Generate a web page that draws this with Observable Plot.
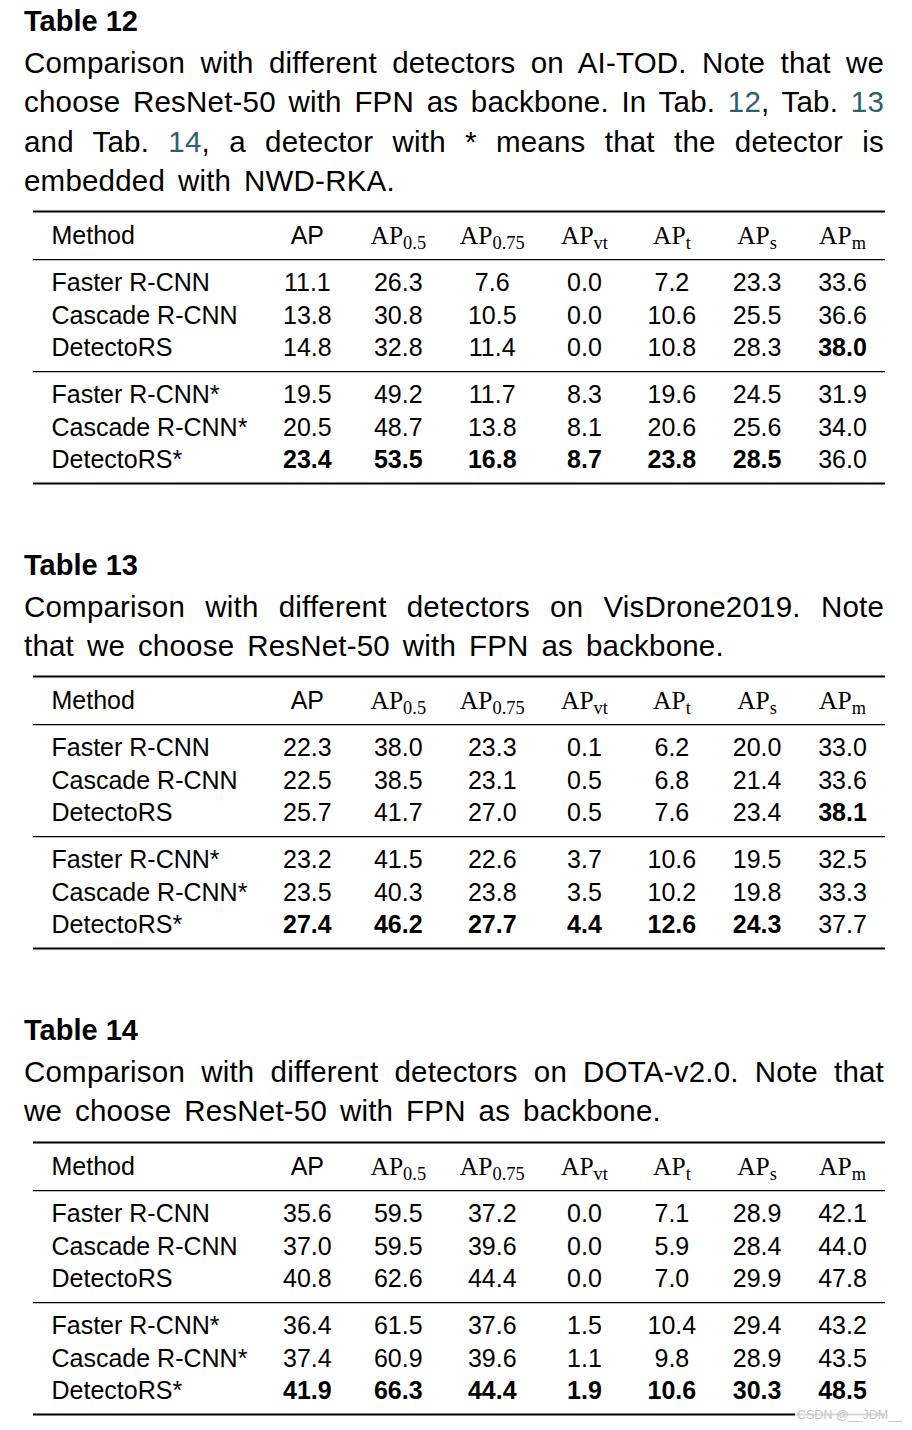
<!DOCTYPE html>
<html>
<head>
<meta charset="utf-8">
<script src="https://cdn.jsdelivr.net/npm/d3@7"></script>
<script src="https://cdn.jsdelivr.net/npm/@observablehq/plot@0.6"></script>
<style>
  body { margin: 0; background: #fff; }
  #page { position: relative; width: 912px; height: 1430px; overflow: hidden; font-family: "Liberation Sans", Arial, sans-serif; color: #000; }
  .title { position: absolute; left: 24px; font-weight: bold; font-size: 29px; line-height: 39.5px; white-space: nowrap; }
  .cap { position: absolute; left: 24px; width: 860px; font-size: 29.5px; line-height: 39.5px; letter-spacing: 0.2px; }
  .cap div { text-align: justify; text-align-last: justify; white-space: nowrap; }
  .cap div.last { text-align-last: left; word-spacing: 4.5px; }
  .ref { color: #2c6170; }
  .tbl { position: absolute; left: 0; }
  .wm { position: absolute; left: 795px; top: 1408px; font-size: 12.5px; color: #c4c4c4; background: rgba(255,255,255,0.85); padding: 0 2px; font-family: "Liberation Sans", Arial, sans-serif; }
</style>
</head>
<body>
<div id="page"></div>
<script>
// ---------- data ----------
const methods = ["Faster R-CNN", "Cascade R-CNN", "DetectoRS", "Faster R-CNN*", "Cascade R-CNN*", "DetectoRS*"];
const columns = ["AP", "AP_0.5", "AP_0.75", "AP_vt", "AP_t", "AP_s", "AP_m"];

const titles = ["Table 12", "Table 13", "Table 14"];
const captions12 = [
  "Comparison with different detectors on AI-TOD. Note that we",
  "choose ResNet-50 with FPN as backbone. In Tab. [12], Tab. [13]",
  "and Tab. [14], a detector with * means that the detector is",
  "embedded with NWD-RKA."
];
const captions13 = [
  "Comparison with different detectors on VisDrone2019. Note",
  "that we choose ResNet-50 with FPN as backbone."
];
const captions14 = [
  "Comparison with different detectors on DOTA-v2.0. Note that",
  "we choose ResNet-50 with FPN as backbone."
];

const values12 = [
  [11.1, 26.3, 7.6, 0.0, 7.2, 23.3, 33.6],
  [13.8, 30.8, 10.5, 0.0, 10.6, 25.5, 36.6],
  [14.8, 32.8, 11.4, 0.0, 10.8, 28.3, 38.0],
  [19.5, 49.2, 11.7, 8.3, 19.6, 24.5, 31.9],
  [20.5, 48.7, 13.8, 8.1, 20.6, 25.6, 34.0],
  [23.4, 53.5, 16.8, 8.7, 23.8, 28.5, 36.0]
];
const bold12 = [
  [0,0,0,0,0,0,0],
  [0,0,0,0,0,0,0],
  [0,0,0,0,0,0,1],
  [0,0,0,0,0,0,0],
  [0,0,0,0,0,0,0],
  [1,1,1,1,1,1,0]
];
const values13 = [
  [22.3, 38.0, 23.3, 0.1, 6.2, 20.0, 33.0],
  [22.5, 38.5, 23.1, 0.5, 6.8, 21.4, 33.6],
  [25.7, 41.7, 27.0, 0.5, 7.6, 23.4, 38.1],
  [23.2, 41.5, 22.6, 3.7, 10.6, 19.5, 32.5],
  [23.5, 40.3, 23.8, 3.5, 10.2, 19.8, 33.3],
  [27.4, 46.2, 27.7, 4.4, 12.6, 24.3, 37.7]
];
const bold13 = [
  [0,0,0,0,0,0,0],
  [0,0,0,0,0,0,0],
  [0,0,0,0,0,0,1],
  [0,0,0,0,0,0,0],
  [0,0,0,0,0,0,0],
  [1,1,1,1,1,1,0]
];
const values14 = [
  [35.6, 59.5, 37.2, 0.0, 7.1, 28.9, 42.1],
  [37.0, 59.5, 39.6, 0.0, 5.9, 28.4, 44.0],
  [40.8, 62.6, 44.4, 0.0, 7.0, 29.9, 47.8],
  [36.4, 61.5, 37.6, 1.5, 10.4, 29.4, 43.2],
  [37.4, 60.9, 39.6, 1.1, 9.8, 28.9, 43.5],
  [41.9, 66.3, 44.4, 1.9, 10.6, 30.3, 48.5]
];
const bold14 = [
  [0,0,0,0,0,0,0],
  [0,0,0,0,0,0,0],
  [0,0,0,0,0,0,0],
  [0,0,0,0,0,0,0],
  [0,0,0,0,0,0,0],
  [1,1,1,1,1,1,1]
];

// ---------- layout (table geometry, not data) ----------
const colWidths = [229.5, 89, 93, 95, 89.5, 85.5, 85, 86]; // tabular column widths
const tabcolsep = 18;
const totalW = d3.sum(colWidths);
const colStart = d3.cumsum([0, ...colWidths]);
const colCenter = i => colStart[i] + colWidths[i] / 2;
const rowStep = 32.5;
const gap = 14.5 / rowStep;              // extra space after a rule, in row units
const rowSlot = r => 1 + gap + (r < 3 ? 0 : 3 + gap) + (r % 3);
const topRule = -0.76;
const headRule = rowSlot(0) / 2;
const midRule = (rowSlot(2) + rowSlot(3)) / 2;
const bottomRule = rowSlot(5) + 0.723;
const mTop = 6, mBot = 6;
const plotH = Math.round(mTop + mBot + rowStep * (bottomRule - topRule));
const FONT = "'Liberation Sans', Arial, sans-serif";
const FS = 25;

function makeTable(values, bold) {
  const cells = [];
  values.forEach((row, r) => row.forEach((v, c) => cells.push({
    x: colCenter(c + 1), y: rowSlot(r), text: v.toFixed(1), bold: !!bold[r][c]
  })));
  const names = methods.map((m, r) => ({x: tabcolsep, y: rowSlot(r), text: m}));
  const heads = columns.map((h, c) => ({x: colCenter(c + 1), y: 0, text: h}));

  const svg = Plot.plot({
    width: 912,
    height: plotH,
    marginLeft: 33, marginRight: 27, marginTop: mTop, marginBottom: mBot,
    x: {type: "linear", domain: [0, totalW], axis: null},
    y: {type: "linear", domain: [topRule, bottomRule], range: [mTop, plotH - mBot], axis: null},
    style: {fontFamily: FONT, fontSize: FS + "px", color: "#000", background: "transparent", overflow: "visible"},
    marks: [
      Plot.ruleY([topRule, bottomRule], {x1: 0, x2: totalW, stroke: "#000", strokeWidth: 2.2}),
      Plot.ruleY([headRule, midRule], {x1: 0, x2: totalW, stroke: "#000", strokeWidth: 1.3}),
      Plot.text([{x: tabcolsep, y: 0, text: "Method"}], {x: "x", y: "y", text: "text", textAnchor: "start", fontSize: FS, fill: "#000"}),
      Plot.text(heads.filter(d => !d.text.includes("_")), {x: "x", y: "y", text: "text", fontSize: FS, fill: "#000"}),
      Plot.text(heads.filter(d => d.text.includes("_")), {x: "x", y: "y", text: "text", fontSize: FS + 0.5, fill: "#000", fontFamily: "'Liberation Serif', 'Times New Roman', serif"}),
      Plot.text(names, {x: "x", y: "y", text: "text", textAnchor: "start", fontSize: FS, fill: "#000"}),
      Plot.text(cells.filter(d => !d.bold), {x: "x", y: "y", text: "text", fontSize: FS, fill: "#000"}),
      Plot.text(cells.filter(d => d.bold), {x: "x", y: "y", text: "text", fontSize: FS, fontWeight: "bold", fill: "#000"})
    ]
  });
  // turn "AP_xx" header labels into AP with a subscript
  d3.select(svg).selectAll("text").each(function () {
    const t = this.textContent;
    if (!t.includes("_")) return;
    const [base, sub] = t.split("_");
    this.textContent = "";
    const sel = d3.select(this);
    sel.append("tspan").text(base);
    sel.append("tspan").attr("font-size", "0.72em").attr("dy", "5").text(sub);
  });
  return svg;
}

function captionHTML(lines) {
  return lines.map((l, i) =>
    `<div class="${i === lines.length - 1 ? "last" : ""}">${l.replace(/\[(\d+)\]/g, '<span class="ref">$1</span>')}</div>`
  ).join("");
}

const page = document.getElementById("page");
const sections = [
  {title: titles[0], caps: captions12, values: values12, bold: bold12},
  {title: titles[1], caps: captions13, values: values13, bold: bold13},
  {title: titles[2], caps: captions14, values: values14, bold: bold14}
];
let curTop = 2;
for (const s of sections) {
  const t = document.createElement("div");
  t.className = "title"; t.style.top = curTop + "px"; t.textContent = s.title;
  page.appendChild(t);
  const c = document.createElement("div");
  c.className = "cap"; c.style.top = (curTop + 40.5) + "px"; c.innerHTML = captionHTML(s.caps);
  page.appendChild(c);
  const svgTop = curTop + 36.5 + s.caps.length * 39.5 + 8.75;
  const holder = document.createElement("div");
  holder.className = "tbl"; holder.style.top = svgTop + "px";
  holder.appendChild(makeTable(s.values, s.bold));
  page.appendChild(holder);
  curTop = svgTop + plotH + 56.95;
}
const wm = document.createElement("div");
wm.className = "wm"; wm.textContent = "CSDN @__JDM__";
page.appendChild(wm);
</script>
</body>
</html>
